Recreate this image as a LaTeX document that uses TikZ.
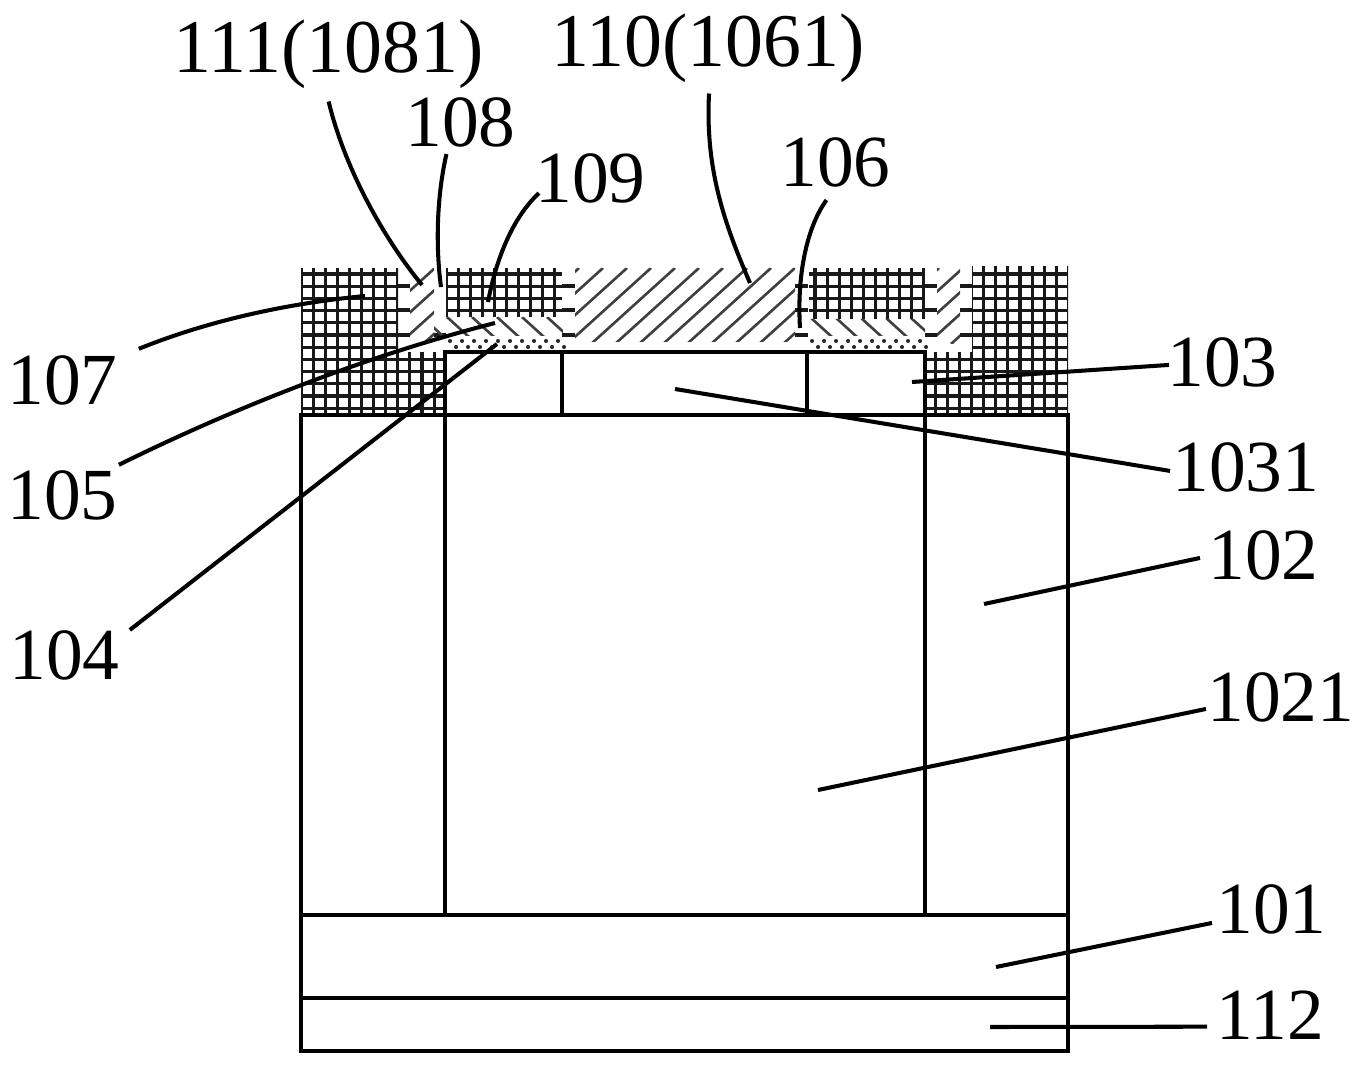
\documentclass[tikz,border=0pt]{standalone}
\usepackage{fontspec}
\setmainfont{Liberation Serif}
\usetikzlibrary{calc}
\tikzset{
  labeltext/.style={anchor=base west,inner sep=0pt,font=\fontsize{41.8}{44}\selectfont},
  longlabel/.style={labeltext,font=\fontsize{43.2}{45}\selectfont},
  outline/.style={line width=1.75pt,black},
  leader/.style={line width=2.3pt,black},
  gridline/.style={line width=1.8pt,black!90},
  hatchline/.style={line width=1.5pt,black!75}
}
% lines of the mesh fill, x0 is the phase of the vertical lines
\newcommand{\gridblock}[5]{
  \begin{scope}
    \clip (#1,#2) rectangle (#3,#4);
    \foreach \i in {-12,...,12} \draw[gridline] ({#5+12.1*\i},#2) -- ({#5+12.1*\i},#4);
    \foreach \j in {0,...,11} \draw[gridline] (#1,{274+12.2*\j}) -- (#3,{274+12.2*\j});
  \end{scope}
}
\begin{document}
\begin{tikzpicture}[x=0.02cm,y=-0.02cm]
\useasboundingbox (0,0) rectangle (1359,1067);
% mesh
\gridblock{301}{268}{398}{352}{301}
\gridblock{301}{352}{445}{415}{301}
\gridblock{446}{268}{562}{317}{446}
\gridblock{809}{268}{925}{319}{815}
\gridblock{972}{266}{1068}{352}{1020}
\gridblock{925}{352}{1068}{415}{1020}
% stubs in the gaps
\foreach \xa/\xb in {398/410,562/575,795/808,925/937,960/972}
  \foreach \y in {286,310,335} \draw[gridline] (\xa,\y) -- (\xb,\y);
\draw[gridline] (434,335) -- (446,335);
% up hatch
\begin{scope}
  \clip (410,268) rectangle (434,342) (575,268) rectangle (795,342) (937,268) rectangle (960,344);
  \foreach \x in {387,411,...,1059} \draw[hatchline] (\x,268) -- ++(-84,76);
\end{scope}
% down hatch
\begin{scope}
  \clip (434,317) rectangle (563,336) (809,319) rectangle (925,336);
  \foreach \x in {422,447,...,547} \draw[hatchline] (\x,317) -- ++(22,20);
  \foreach \x in {785,810,...,910} \draw[hatchline] (\x,317) -- ++(22,20);
\end{scope}
% dots
\foreach \x in {0,...,9} {
  \fill[black!85] (450+12*\x,341) circle (1.15pt);
  \fill[black!85] (456+12*\x,347) circle (1.15pt);
  \fill[black!85] (812+12*\x,341) circle (1.15pt);
  \fill[black!85] (818+12*\x,347) circle (1.15pt);
}
% body
\draw[outline] (301,415) rectangle (1068,1051);
\draw[outline] (301,915) -- (1068,915);
\draw[outline] (301,998) -- (1068,998);
\draw[outline] (445,915) -- (445,352) -- (925,352) -- (925,915);
\draw[outline] (562,352) -- (562,415);
\draw[outline] (807,352) -- (807,415);
% labels
\node[longlabel] (l111) at (173,73) {111(1081)};
\node[labeltext] (l108) at (405,147) {108};
\node[labeltext] (l109) at (535,203) {109};
\node[longlabel] (l110) at (551,67) {110(1061)};
\node[labeltext] (l106) at (780,187) {106};
\node[labeltext] (l107) at (7,404) {107};
\node[labeltext] (l105) at (7,519) {105};
\node[labeltext] (l104) at (9,679) {104};
\node[labeltext] (l103) at (1167,387) {103};
\node[labeltext] (l1031) at (1172,491) {1031};
\node[labeltext] (l102) at (1208,579) {102};
\node[labeltext] (l1021) at (1207,721) {1021};
\node[labeltext] (l101) at (1216,933) {101};
\node[labeltext] (l112) at (1216,1039) {112};
% leader ends
\coordinate (e111) at (422,285);
\coordinate (e108) at (441,287);
\coordinate (e109) at (488,302);
\coordinate (e110) at (750,283);
\coordinate (e106) at (800,328);
\coordinate (e107) at (365,296);
\coordinate (e105) at (495,323);
\coordinate (e104) at (497,344);
\coordinate (e103) at (912,382);
\coordinate (e1031) at (675,389);
\coordinate (e102) at (984,604);
\coordinate (e1021) at (818,790);
\coordinate (e101) at (996,967);
\coordinate (e112) at (990,1027);
% leaders
\draw[leader] ($(l111.south)+(0,12)$) .. controls (345,170) and (385,240) .. (e111);
\draw[leader] ($(l108.south)+(-14,6)$) .. controls (436,200) and (436,250) .. (e108);
\draw[leader] ($(l109.south west)+(4,-11)$) .. controls (510,220) and (495,265) .. (e109);
\draw[leader] ($(l110.south)+(1,10)$) .. controls (705,170) and (725,225) .. (e110);
\draw[leader] ($(l106.south)+(-9,12)$) .. controls (805,230) and (797,280) .. (e106);
\draw[leader] ($(l107.north east)+(21,-6)$) .. controls (210,320) and (290,303) .. (e107);
\draw[leader] ($(l105.north east)+(1,-5)$) .. controls (240,405) and (370,355) .. (e105);
\draw[leader] ($(l104.east)+(10,-25)$) -- (e104);
\draw[leader] ($(l103.west)+(2,2)$) -- (e103);
\draw[leader] ($(l1031.west)+(-2,4)$) -- (e1031);
\draw[leader] ($(l102.west)+(-8,3)$) -- (e102);
\draw[leader] ($(l1021.west)+(-1,12)$) -- (e1021);
\draw[leader] ($(l101.west)+(-4,14)$) -- (e101);
\draw[leader] ($(l112.west)+(-9,12)$) -- (e112);
\end{tikzpicture}
\end{document}
